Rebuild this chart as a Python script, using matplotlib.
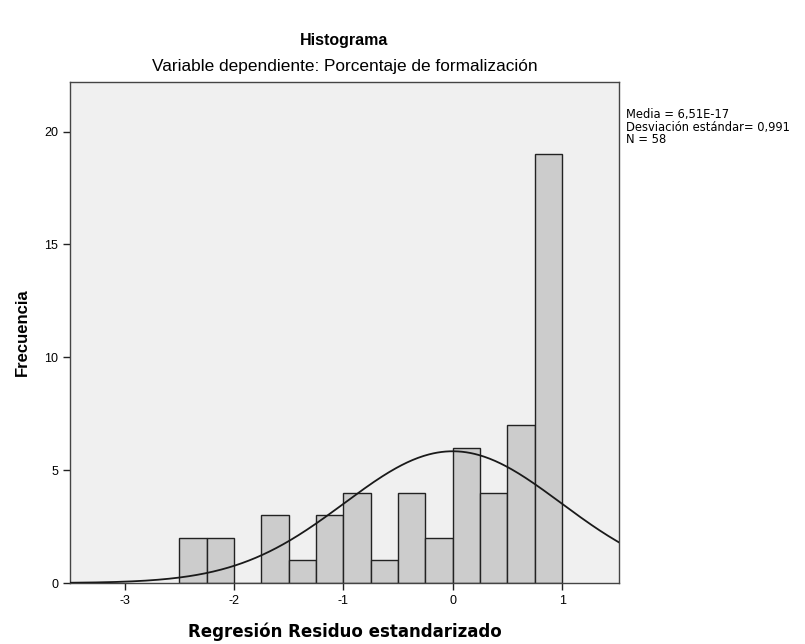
import matplotlib.pyplot as plt
import numpy as np

plt.rcParams['font.family'] = ['Liberation Sans', 'DejaVu Sans']

# Histogram data
bin_edges = [-2.5, -2.25, -2.0, -1.75, -1.5, -1.25, -1.0, -0.75, -0.5,
             -0.25, 0.0, 0.25, 0.5, 0.75, 1.0]
counts = [2, 2, 0, 3, 1, 3, 4, 1, 4, 2, 6, 4, 7, 19]
mean = 6.51e-17
sd = 0.991
n = 58
x_ticks = [-3, -2, -1, 0, 1]
y_ticks = [0, 5, 10, 15, 20]

fig = plt.figure(figsize=(8.05, 6.44), dpi=100)
ax = fig.add_axes([70 / 805, 1 - 583 / 644, 549 / 805, 501 / 644])
ax.set_facecolor('#f0f0f0')

edges = np.array(bin_edges)
widths = np.diff(edges)
ax.bar(edges[:-1], counts, width=widths, align='edge',
       color='#cccccc', edgecolor='#222222', linewidth=1.0, zorder=2)

# normal curve scaled to counts
bw = widths[0]
xs = np.linspace(-3.5, 1.52, 400)
ys = n * bw * np.exp(-0.5 * ((xs - mean) / sd) ** 2) / (sd * np.sqrt(2 * np.pi))
ax.plot(xs, ys, color='#1a1a1a', linewidth=1.3, zorder=3)

ax.set_xlim(-3.5, 1.52)
ax.set_ylim(0, 22.2)
ax.set_xticks(x_ticks)
ax.set_xticklabels([str(t) for t in x_ticks])
ax.set_yticks(y_ticks)
ax.tick_params(direction='out', length=5, width=1, labelsize=9, color='#222222')
for s in ax.spines.values():
    s.set_color('#444444')
    s.set_linewidth(1.0)

ax.set_xlabel('Regresión Residuo estandarizado', fontsize=12, fontweight='bold',
              labelpad=11, family='DejaVu Sans')
ax.set_ylabel('Frecuencia', fontsize=12, fontweight='bold', labelpad=10)

fig.text(0.5 * (70 + 619) / 805, 1 - 40 / 644, 'Histograma', ha='center', va='center',
         fontsize=11.5, fontweight='bold')
fig.text(0.5 * (70 + 619) / 805, 1 - 66 / 644,
         'Variable dependiente: Porcentaje de formalización', ha='center', va='center',
         fontsize=12.4)

fig.text(626 / 805, 1 - 108 / 644,
         'Media = 6,51E-17\nDesviación estándar= 0,991\nN = 58',
         ha='left', va='top', fontsize=8.3, linespacing=0.95, family='DejaVu Sans')

fig.savefig('out.png', dpi=100, facecolor='white')
